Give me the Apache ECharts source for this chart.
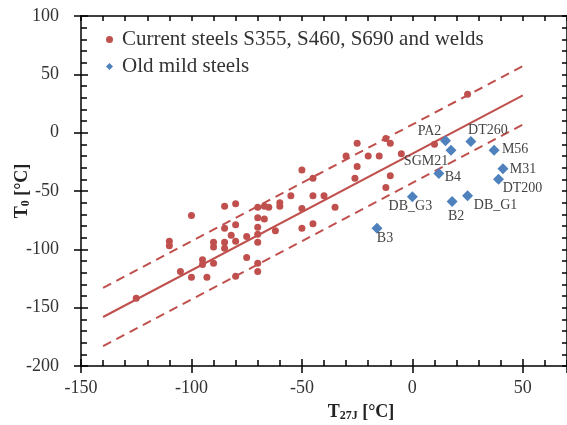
<!DOCTYPE html>
<html>
<head>
<meta charset="utf-8">
<script src="https://cdn.jsdelivr.net/npm/echarts@6/dist/echarts.min.js"></script>
<style>
html,body{margin:0;padding:0;background:#fff;}
#main{width:567px;height:425px;}
</style>
</head>
<body>
<div id="main"></div>
<script>
// current steels S355, S460, S690 and welds  (T27J, T0)
var curX = [-125, -110, -110, -100, -105, -100, -95, -95, -93, -90,
            -85, -80, -85, -80, -82, -90, -90, -85, -85, -80,
            -75, -75, -80, -70, -67, -65, -70, -67, -70, -70,
            -70, -70, -70, -62, -60, -60, -55, -50, -50, -50,
            -45, -45, -45, -40, -35, -30, -25, -20, -15, -25,
            -26, -12, -10, -10, -12, -5, 10, 25];
var curY = [-142, -93, -97, -71, -119, -124, -109, -113, -124, -112,
            -63, -61, -82, -79, -88, -94, -98, -94, -99, -93,
            -89, -107, -123, -64, -63, -64, -73, -74, -81, -87,
            -94, -112, -119, -84, -60, -63, -54, -32, -65, -82,
            -54, -78, -39, -54, -64, -20, -9, -20, -20, -29,
            -39, -5, -9, -37, -47, -18, -10, 33];

// old mild steels
var oldNames = ['PA2', 'SGM21', 'DT260', 'M56', 'M31', 'DT200', 'B4', 'DB_G3', 'B2', 'DB_G1', 'B3'];
var oldX = [15, 17.5, 26.5, 37, 41, 39, 12, 0, 18, 25, -16];
var oldY = [-7, -15, -7.5, -15, -31, -40, -35, -55, -59, -54, -82];

// fit line and scatter band
var fitX = [-140, 50];
var fitY = [-158, 32];
var upperY = [-133, 57];
var lowerY = [-183, 7];

var xTicks = [-150, -100, -50, 0, 50];
var yTicks = [-200, -150, -100, -50, 0, 50, 100];

var red = '#c0504d';
var blue = '#4f81bd';
var serif = 'Liberation Serif';

// where each point label sits relative to its marker
var labelOffset = {
    'PA2': [-16, -10], 'DT260': [17, -11], 'M56': [21, -1], 'SGM21': [-25, 11],
    'M31': [20, 0], 'B4': [14, 4], 'DT200': [24, 9], 'DB_G3': [-2, 9],
    'B2': [4, 15], 'DB_G1': [28, 10], 'B3': [8, 10]
};

function pairs(xs, ys) {
    var out = [];
    for (var i = 0; i < xs.length; i++) out.push([xs[i], ys[i]]);
    return out;
}

var oldData = [];
for (var i = 0; i < oldNames.length; i++) {
    oldData.push({
        name: oldNames[i],
        value: [oldX[i], oldY[i]],
        label: {offset: labelOffset[oldNames[i]]}
    });
}

// helper for stacked axes (major / minor / crossing ticks)
function xAx(pos, step, tickLen, inside, showLine, showLabel, extra) {
    var a = {
        type: 'value', position: pos, min: -150, max: 70, interval: step,
        axisLine: {show: showLine, onZero: false, lineStyle: {color: '#000', width: 1.5}},
        axisTick: {show: true, inside: inside, length: tickLen, lineStyle: {color: '#000', width: 1.5}},
        axisLabel: {show: showLabel, showMaxLabel: false, margin: 13,
            color: '#333', fontFamily: serif, fontSize: 18,
            formatter: function (v) { return xTicks.indexOf(v) >= 0 ? String(v) : ''; }},
        splitLine: {show: false}
    };
    return Object.assign(a, extra || {});
}
function yAx(pos, step, tickLen, inside, showLine, showLabel, extra) {
    var a = {
        type: 'value', position: pos, min: -200, max: 100, interval: step,
        axisLine: {show: showLine, onZero: false, lineStyle: {color: '#000', width: 1.5}},
        axisTick: {show: true, inside: inside, length: tickLen, lineStyle: {color: '#000', width: 1.5}},
        axisLabel: {show: showLabel, margin: 22,
            color: '#333', fontFamily: serif, fontSize: 18,
            formatter: function (v) { return yTicks.indexOf(v) >= 0 ? String(v) : ''; }},
        splitLine: {show: false}
    };
    return Object.assign(a, extra || {});
}

var chart = echarts.init(document.getElementById('main'));

var option = {
    animation: false,
    backgroundColor: '#fff',
    grid: {left: 81, right: 0, top: 16, bottom: 59, containLabel: false, outerBoundsMode: 'none'},
    legend: {
        orient: 'vertical', left: 101, top: 24, itemGap: 6,
        itemWidth: 7, itemHeight: 7,
        textStyle: {fontFamily: serif, fontSize: 21, color: '#333', padding: [0, 0, 0, 4]},
        data: ['Current steels S355, S460, S690 and welds', 'Old mild steels']
    },
    xAxis: [
        xAx('bottom', 50, 7, true, true, true, {
            name: '{b|T}{s|27J}{b| [°C]}', nameLocation: 'middle', nameGap: 36,
            nameMoveOverlap: false,
            nameTextStyle: {padding: [0, 0, 0, 74], rich: {
                b: {fontFamily: serif, fontSize: 18, fontWeight: 'bold', color: '#222'},
                s: {fontFamily: serif, fontSize: 12, fontWeight: 'bold', color: '#222', padding: [8, 0, 0, 0]}
            }}
        }),
        xAx('bottom', 10, 6, true, false, false),
        xAx('bottom', 50, 7, false, false, false),
        xAx('top', 10, 5, true, true, false)
    ],
    yAxis: [
        yAx('left', 50, 7, true, true, true, {
            name: '{b|T}{s|0}{b| [°C]}', nameLocation: 'middle', nameGap: 49, nameRotate: 90,
            nameMoveOverlap: false,
            nameTextStyle: {rich: {
                b: {fontFamily: serif, fontSize: 18, fontWeight: 'bold', color: '#222'},
                s: {fontFamily: serif, fontSize: 12, fontWeight: 'bold', color: '#222', padding: [8, 0, 0, 0]}
            }}
        }),
        yAx('left', 10, 6, true, false, false),
        yAx('left', 50, 7, false, false, false),
        yAx('right', 10, 5, true, true, false)
    ],
    series: [
        {
            type: 'line', silent: true, symbol: 'none', z: 1,
            data: pairs(fitX, fitY),
            lineStyle: {color: red, width: 2}
        },
        {
            type: 'line', silent: true, symbol: 'none', z: 1,
            data: pairs(fitX, upperY),
            lineStyle: {color: red, width: 2, type: [9, 6]}
        },
        {
            type: 'line', silent: true, symbol: 'none', z: 1,
            data: pairs(fitX, lowerY),
            lineStyle: {color: red, width: 2, type: [9, 6]}
        },
        {
            name: 'Current steels S355, S460, S690 and welds',
            type: 'scatter', symbol: 'circle', symbolSize: 7, z: 3,
            itemStyle: {color: red, opacity: 1},
            data: pairs(curX, curY)
        },
        {
            name: 'Old mild steels',
            type: 'scatter', symbol: 'diamond', symbolSize: 11, z: 3,
            itemStyle: {color: blue, opacity: 1},
            label: {
                show: true, position: 'inside', align: 'center', verticalAlign: 'middle',
                formatter: '{b}', fontFamily: serif, fontSize: 14, color: '#444'
            },
            data: oldData
        }
    ]
};

chart.setOption(option);
</script>
</body>
</html>
